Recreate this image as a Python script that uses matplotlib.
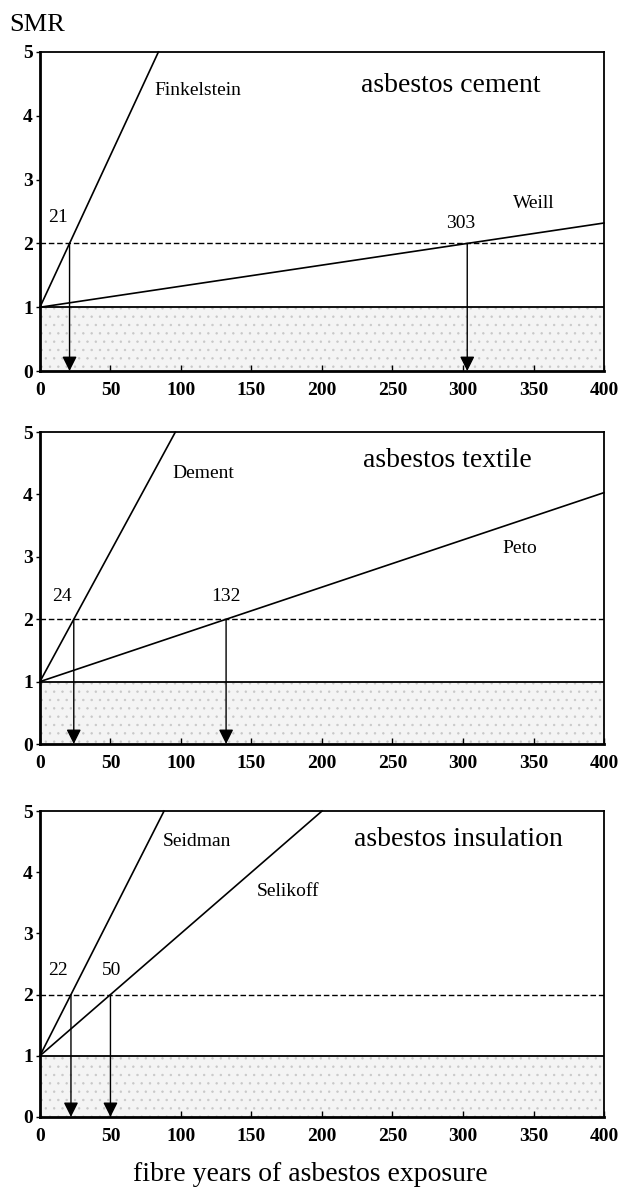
import matplotlib.pyplot as plt

plt.rcParams['font.family'] = ['Liberation Serif', 'DejaVu Serif']

# ---------------- data ----------------
panel_titles = ["asbestos cement", "asbestos textile", "asbestos insulation"]

# study lines: (name, x end points, SMR end points)
cement_names = ["Finkelstein", "Weill"]
cement_x = [[0, 84], [0, 400]]
cement_smr = [[1.0, 5.0], [1.0, 2.32]]
cement_doubling = [21, 303]

textile_names = ["Dement", "Peto"]
textile_x = [[0, 96], [0, 400]]
textile_smr = [[1.0, 5.0], [1.0, 4.03]]
textile_doubling = [24, 132]

insul_names = ["Seidman", "Selikoff"]
insul_x = [[0, 88], [0, 200]]
insul_smr = [[1.0, 5.0], [1.0, 5.0]]
insul_doubling = [22, 50]

x_ticks = [0, 50, 100, 150, 200, 250, 300, 350, 400]
y_ticks = [0, 1, 2, 3, 4, 5]

panels = [
    (cement_names, cement_x, cement_smr, cement_doubling),
    (textile_names, textile_x, textile_smr, textile_doubling),
    (insul_names, insul_x, insul_smr, insul_doubling),
]

# label placement (data coords) per panel
name_pos = [
    [(81, 4.40, 'left'), (350, 2.63, 'center')],
    [(116, 4.34, 'center'), (340, 3.14, 'center')],
    [(87, 4.51, 'left'), (154, 3.68, 'left')],
]
title_pos = [(291, 4.48), (289, 4.55), (297, 4.53)]
num_pos = [
    [(12.8, 2.40), (298, 2.32)],
    [(15.7, 2.36), (132, 2.36)],
    [(13, 2.40), (51, 2.40)],
]

# axes rectangles [left, bottom, width, height] in figure fractions
rects = [
    [0.064, 0.6895, 0.904, 0.267],
    [0.064, 0.3774, 0.904, 0.261],
    [0.064, 0.0653, 0.904, 0.256],
]

plt.rcParams['hatch.linewidth'] = 0.5
fig = plt.figure(figsize=(6.24, 11.95), dpi=100)

for i, (names, xs, ys, dbl) in enumerate(panels):
    ax = fig.add_axes(rects[i])
    ax.set_xlim(0, 400)
    ax.set_ylim(0, 5)

    # shaded region below SMR = 1
    ax.fill_between([0, 400], 0, 1, facecolor='#f4f4f4', edgecolor='#c8c8c8',
                    hatch='..', linewidth=0, zorder=0)
    ax.axhline(1, color='black', lw=1.3, zorder=2)
    ax.axhline(2, color='black', lw=1.0, ls=(0, (4, 2)), zorder=2)

    for x, y in zip(xs, ys):
        ax.plot(x, y, color='black', lw=1.2, zorder=3, clip_on=False)

    for d in dbl:
        ax.annotate('', xy=(d, 0), xytext=(d, 2),
                    arrowprops=dict(arrowstyle='-|>', color='black', lw=1.0,
                                    mutation_scale=22, shrinkA=0, shrinkB=0),
                    zorder=4)

    for (px, py, ha), nm in zip(name_pos[i], names):
        ax.text(px, py, nm, fontsize=14, ha=ha, va='center')
    for (px, py), d in zip(num_pos[i], dbl):
        ax.text(px, py, str(d), fontsize=14, ha='center', va='center')
    ax.text(title_pos[i][0], title_pos[i][1], panel_titles[i], fontsize=20,
            ha='center', va='center')

    ax.set_xticks(x_ticks)
    ax.set_yticks(y_ticks)
    ax.tick_params(axis='x', direction='in', length=4, width=1, pad=8,
                   labelsize=14)
    ax.tick_params(axis='y', direction='out', length=3, width=1, pad=2,
                   labelsize=14)
    for lab in ax.get_xticklabels() + ax.get_yticklabels():
        lab.set_fontweight('bold')
    for side in ['left', 'bottom']:
        ax.spines[side].set_linewidth(2.0)
    for side in ['top', 'right']:
        ax.spines[side].set_linewidth(1.3)

fig.text(0.059, 0.979, "SMR", fontsize=19, ha='center', va='center')
fig.text(0.497, 0.017, "fibre years of asbestos exposure", fontsize=20,
         ha='center', va='center')

fig.savefig("out.png", dpi=100)
